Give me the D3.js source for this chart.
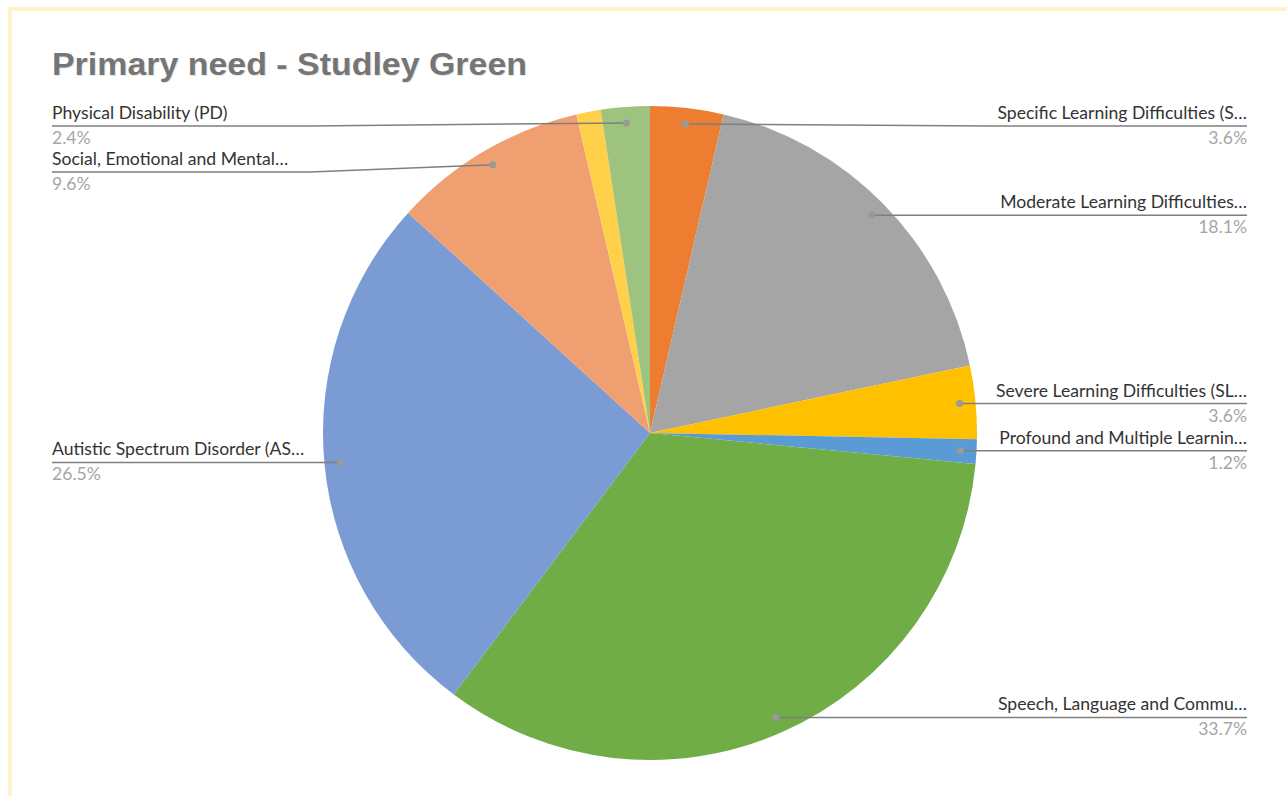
<!DOCTYPE html>
<html>
<head>
<meta charset="utf-8">
<script src="https://cdn.jsdelivr.net/npm/d3@7/dist/d3.min.js"></script>
<style>
  html, body { margin: 0; padding: 0; background: #ffffff; }
  svg { display: block; }
</style>
</head>
<body>
<svg id="chart" width="1287" height="796"></svg>
<script>
// ---- Data ----
const title = "Primary need - Studley Green";
const categories = [
  "Specific Learning Difficulties (S\u2026",
  "Moderate Learning Difficulties\u2026",
  "Severe Learning Difficulties (SL\u2026",
  "Profound and Multiple Learnin\u2026",
  "Speech, Language and Commu\u2026",
  "Autistic Spectrum Disorder (AS\u2026",
  "Social, Emotional and Mental\u2026",
  "Other",
  "Physical Disability (PD)"
];
const counts = [3, 15, 3, 1, 28, 22, 8, 1, 2];
const labelShown = [true, true, true, true, true, true, true, false, true];
const colors = ["#ED7D31", "#A5A5A5", "#FFC000", "#5B9BD5", "#70AD47",
                "#7A9BD3", "#F0A070", "#FFD04A", "#9DC37E"];

// ---- Layout ----
const svg = d3.select("#chart");
const W = 1287, H = 796;
const cx = 650, cy = 433, R = 327;
const dotR = 311;
const leftX = 52, rightX = 1247, labelSpan = 258;
const fontSize = 17.6;

svg.append("rect").attr("width", W).attr("height", H).attr("fill", "#ffffff");
svg.append("rect")
  .attr("x", 10).attr("y", 9).attr("width", 1320).attr("height", 820)
  .attr("fill", "none").attr("stroke", "#FFF2CC").attr("stroke-width", 4);

// Title with a soft shadow
const tg = svg.append("g");
tg.append("text")
  .attr("x", 53).attr("y", 76)
  .attr("font-family", "Liberation Sans, Arial, sans-serif")
  .attr("font-weight", "bold").attr("font-size", 31)
  .attr("textLength", 475).attr("lengthAdjust", "spacingAndGlyphs")
  .attr("fill", "#e6e6e6")
  .text(title);
tg.append("text")
  .attr("x", 52).attr("y", 75)
  .attr("font-family", "Liberation Sans, Arial, sans-serif")
  .attr("font-weight", "bold").attr("font-size", 31)
  .attr("textLength", 475).attr("lengthAdjust", "spacingAndGlyphs")
  .attr("fill", "#757575")
  .text(title);

const data = categories.map((c, i) => ({ name: c, value: counts[i], color: colors[i], show: labelShown[i], i }));
const total = d3.sum(counts);
const pct = d3.format(".1%");

const pie = d3.pie().value(d => d.value).sort(null);
const arcs = pie(data);
const arc = d3.arc().innerRadius(0).outerRadius(R);

const g = svg.append("g").attr("transform", `translate(${cx},${cy})`);
g.selectAll("path.slice").data(arcs).enter().append("path")
  .attr("class", "slice")
  .attr("d", arc)
  .attr("fill", d => d.data.color);

// Label positioning
const dotArc = d3.arc().innerRadius(dotR).outerRadius(dotR);
const labels = arcs.filter(a => a.data.show).map(a => {
  const [x, y] = dotArc.centroid(a);
  const mid = (a.startAngle + a.endAngle) / 2;
  return { a, dx: cx + x, dy: cy + y, side: mid < Math.PI ? "right" : "left", ly: cy + y };
});

const minY = 126, gap = 46;
["left", "right"].forEach(side => {
  const arr = labels.filter(l => l.side === side).sort((p, q) => p.ly - q.ly);
  let prev = -Infinity;
  arr.forEach(l => {
    l.ly = Math.max(l.ly, minY, prev + gap);
    prev = l.ly;
  });
});

const lg = svg.append("g");
labels.forEach(l => {
  const isRight = l.side === "right";
  const x0 = isRight ? rightX : leftX;
  const elbow = isRight ? rightX - labelSpan : leftX + labelSpan;
  lg.append("polyline")
    .attr("points", `${x0},${l.ly} ${elbow},${l.ly} ${l.dx},${l.dy}`)
    .attr("fill", "none").attr("stroke", "#7f7f7f").attr("stroke-width", 1.5);
  lg.append("circle").attr("cx", l.dx).attr("cy", l.dy).attr("r", 3.5).attr("fill", "#999999");
  lg.append("text")
    .attr("x", x0).attr("y", l.ly - 7)
    .attr("text-anchor", isRight ? "end" : "start")
    .attr("font-family", "Lato, 'Open Sans', sans-serif").attr("font-size", fontSize)
    .attr("fill", "#333333")
    .text(l.a.data.name);
  lg.append("text")
    .attr("x", x0).attr("y", l.ly + 18)
    .attr("text-anchor", isRight ? "end" : "start")
    .attr("font-family", "Lato, 'Open Sans', sans-serif").attr("font-size", fontSize)
    .attr("fill", "#a6a6a6")
    .text(pct(l.a.data.value / total));
});
</script>
</body>
</html>
